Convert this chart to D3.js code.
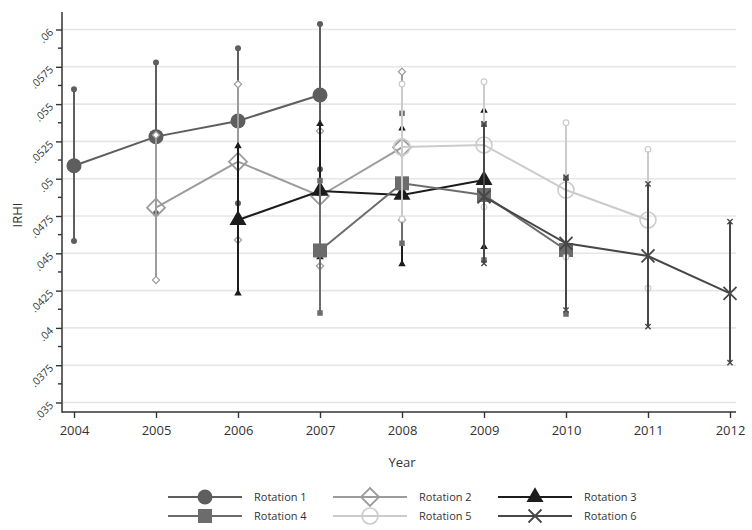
<!DOCTYPE html>
<html><head><meta charset="utf-8">
<script src="https://cdn.jsdelivr.net/npm/d3@7"></script>
<style>body{margin:0;background:#fff}svg{display:block}text{font-family:"Open Sans","DejaVu Sans",sans-serif;fill:#333}</style>
</head><body><svg id="c" width="752" height="530"></svg>
<script>
// ---- data ----
const yearTicks = [2004,2005,2006,2007,2008,2009,2010,2011,2012];
const yTicks = [0.035,0.0375,0.04,0.0425,0.045,0.0475,0.05,0.0525,0.055,0.0575,0.06];
const yTickLabels = [".035",".0375",".04",".0425",".045",".0475",".05",".0525",".055",".0575",".06"];
const seriesNames = ["Rotation 1","Rotation 2","Rotation 3","Rotation 4","Rotation 5","Rotation 6"];

const r1Years = [2004,2005,2006,2007];
const r1Mean  = [0.05087,0.05282,0.05387,0.05561];
const r1Lo    = [0.04583,0.04768,0.04835,0.05063];
const r1Hi    = [0.05599,0.05778,0.05874,0.06037];

const r2Years = [2005,2006,2007,2008];
const r2Mean  = [0.04806,0.05114,0.04884,0.05210];
const r2Lo    = [0.04321,0.04589,0.04415,0.04723];
const r2Hi    = [0.05293,0.05633,0.05320,0.05717];

const r3Years = [2006,2007,2008,2009];
const r3Mean  = [0.04723,0.04918,0.04891,0.04991];
const r3Lo    = [0.04232,0.04475,0.04428,0.04544];
const r3Hi    = [0.05219,0.05367,0.05338,0.05456];

const r4Years = [2007,2008,2009,2010];
const r4Mean  = [0.04519,0.04969,0.04891,0.04522];
const r4Lo    = [0.04100,0.04567,0.04455,0.04093];
const r4Hi    = [0.04987,0.05438,0.05365,0.05003];

const r5Years = [2008,2009,2010,2011];
const r5Mean  = [0.05213,0.05226,0.04924,0.04723];
const r5Lo    = [0.04730,0.04810,0.04475,0.04266];
const r5Hi    = [0.05635,0.05650,0.05375,0.05197];

const r6Years = [2009,2010,2011,2012];
const r6Mean  = [0.04879,0.04567,0.04482,0.04232];
const r6Lo    = [0.04433,0.04120,0.04008,0.03767];
const r6Hi    = [0.05367,0.05010,0.04965,0.04712];

// ---- styles ----
const styles = [
  {color:"#5e5e5e", shape:"circle",   fill:true,  lw:2},
  {color:"#9c9c9c", shape:"diamond",  fill:false, lw:2},
  {color:"#1c1c1c", shape:"triangle", fill:true,  lw:2},
  {color:"#6c6c6c", shape:"square",   fill:true,  lw:2},
  {color:"#cbcbcb", shape:"ocircle",  fill:false, lw:2},
  {color:"#474747", shape:"x",        fill:false, lw:2}
];
const series = [
  [r1Years,r1Mean,r1Lo,r1Hi],[r2Years,r2Mean,r2Lo,r2Hi],[r3Years,r3Mean,r3Lo,r3Hi],
  [r4Years,r4Mean,r4Lo,r4Hi],[r5Years,r5Mean,r5Lo,r5Hi],[r6Years,r6Mean,r6Lo,r6Hi]
].map((s,i)=>({name:seriesNames[i], style:styles[i],
  pts:s[0].map((yr,j)=>({year:yr, mean:s[1][j], lo:s[2][j], hi:s[3][j]}))}));

const svg = d3.select("#c");
svg.append("rect").attr("width",752).attr("height",530).attr("fill","#fff");

const x = d3.scaleLinear().domain([2004,2012]).range([74,730]);
const y = d3.scaleLinear().domain([0.035,0.06]).range([402.5,29.5]);
const axX = 62, axY = 412;

// gridlines
svg.append("g").selectAll("line").data(yTicks).join("line")
  .attr("x1",axX+1).attr("x2",736).attr("y1",d=>y(d)).attr("y2",d=>y(d))
  .attr("stroke","#e6e6e6").attr("stroke-width",1.6);

// y axis
const yAxis = d3.axisLeft(y).tickValues(yTicks).tickFormat((d,i)=>yTickLabels[i]).tickSize(6).tickSizeOuter(0);
const gy = svg.append("g").attr("transform",`translate(${axX},0)`).call(yAxis);
gy.select(".domain").remove();
gy.selectAll(".tick line").attr("stroke","#333").attr("stroke-width",1.4);
gy.selectAll(".tick text").attr("font-size",10.5).attr("fill","#333")
  .attr("text-anchor","end").attr("x",0).attr("dy",0)
  .attr("transform","translate(-8,3) rotate(-45)");
// minor ticks
const minor = d3.range(0,10).map(i=>yTicks[i]+0.00125);
svg.append("g").selectAll("line").data(minor).join("line")
  .attr("x1",axX-4).attr("x2",axX).attr("y1",d=>y(d)).attr("y2",d=>y(d))
  .attr("stroke","#333").attr("stroke-width",1.4);
svg.append("line").attr("x1",axX).attr("x2",axX).attr("y1",12).attr("y2",axY+0.7)
  .attr("stroke","#333").attr("stroke-width",1.5);

// x axis
const xAxis = d3.axisBottom(x).tickValues(yearTicks).tickFormat(d3.format("d")).tickSize(6).tickSizeOuter(0);
const gx = svg.append("g").attr("transform",`translate(0,${axY})`).call(xAxis);
gx.select(".domain").remove();
gx.selectAll(".tick line").attr("stroke","#333").attr("stroke-width",1.4);
gx.selectAll(".tick text").attr("font-size",13).attr("fill","#333").attr("dy","1.05em");
svg.append("line").attr("x1",axX).attr("x2",736).attr("y1",axY).attr("y2",axY)
  .attr("stroke","#333").attr("stroke-width",1.5);

svg.append("text").attr("x",402).attr("y",467).attr("text-anchor","middle").attr("font-size",13).text("Year");
svg.append("text").attr("transform","translate(22,215) rotate(-90)").attr("text-anchor","middle").attr("font-size",13).text("IRHI");

// marker drawing
function drawMarker(g, shape, color, cx, cy, big){
  const k = big ? 1 : 0.4;
  if(shape==="circle"){
    g.append("circle").attr("cx",cx).attr("cy",cy).attr("r",big?7.5:3).attr("fill",color);
  } else if(shape==="ocircle"){
    g.append("circle").attr("cx",cx).attr("cy",cy).attr("r",big?8:2.8).attr("fill","#fff").attr("fill-opacity",big?0:1)
      .attr("stroke",color).attr("stroke-width",big?1.6:1.2);
  } else if(shape==="square"){
    const s = big?14:5.5;
    g.append("rect").attr("x",cx-s/2).attr("y",cy-s/2).attr("width",s).attr("height",s).attr("fill",color);
  } else if(shape==="diamond"){
    const h = big?9:3.6;
    g.append("path").attr("d",`M${cx},${cy-h}L${cx+h},${cy}L${cx},${cy+h}L${cx-h},${cy}Z`)
      .attr("fill","#fff").attr("fill-opacity",big?0:1).attr("stroke",color).attr("stroke-width",big?1.8:1.2);
  } else if(shape==="triangle"){
    const s = big?17:7.5, h = s*Math.sqrt(3)/2;
    g.append("path").attr("d",`M${cx},${cy-h*2/3}L${cx+s/2},${cy+h/3}L${cx-s/2},${cy+h/3}Z`).attr("fill",color);
  } else if(shape==="x"){
    const h = big?6.5:2.6;
    g.append("path").attr("d",`M${cx-h},${cy-h}L${cx+h},${cy+h}M${cx-h},${cy+h}L${cx+h},${cy-h}`)
      .attr("stroke",color).attr("stroke-width",big?1.8:1.4).attr("fill","none");
  }
}

const line = d3.line().x(d=>x(d.year)).y(d=>y(d.mean));
series.forEach(s=>{
  const g = svg.append("g");
  const st = s.style;
  // error bars
  s.pts.forEach(p=>{
    g.append("line").attr("x1",x(p.year)).attr("x2",x(p.year)).attr("y1",y(p.lo)).attr("y2",y(p.hi))
      .attr("stroke",st.color).attr("stroke-width",2);
    drawMarker(g, st.shape, st.color, x(p.year), y(p.lo), false);
    drawMarker(g, st.shape, st.color, x(p.year), y(p.hi), false);
  });
  g.append("path").datum(s.pts).attr("d",line).attr("fill","none").attr("stroke",st.color).attr("stroke-width",st.lw);
  s.pts.forEach(p=> drawMarker(g, st.shape, st.color, x(p.year), y(p.mean), true));
});

// legend
const legX = [168,333,498], legY = [497,516];
series.forEach((s,i)=>{
  const col = i%3, row = Math.floor(i/3);
  const g = svg.append("g");
  const x0 = legX[col], yy = legY[row];
  g.append("line").attr("x1",x0).attr("x2",x0+74).attr("y1",yy).attr("y2",yy)
    .attr("stroke",s.style.color).attr("stroke-width",2);
  drawMarker(g, s.style.shape, s.style.color, x0+37, yy, true);
  g.append("text").attr("x",x0+86).attr("y",yy+4).attr("font-size",11).text(s.name);
});
</script></body></html>
